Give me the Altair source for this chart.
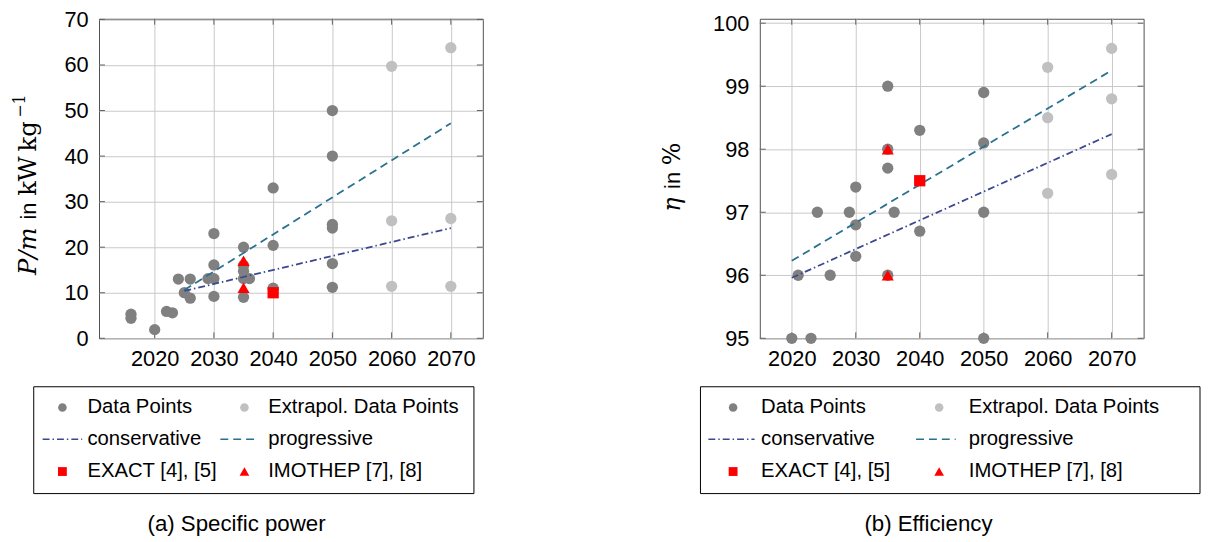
import altair as alt
import pandas as pd

SANS = "Liberation Sans"
SERIF = "DejaVu Serif"

# ---------------- (a) Specific power ----------------
sp_years = [2016, 2016, 2020, 2022, 2023, 2024, 2025, 2026, 2026, 2029,
            2030, 2030, 2030, 2030, 2035, 2035, 2035, 2035, 2035, 2036,
            2040, 2040, 2040, 2050, 2050, 2050, 2050, 2050, 2050]
sp_values = [5.3, 4.4, 1.9, 5.9, 5.6, 13.0, 10.0, 13.0, 8.8, 13.1,
             23.0, 16.1, 13.1, 9.2, 20.0, 16.0, 14.7, 13.1, 9.0, 13.1,
             33.0, 20.4, 11.0, 50.0, 40.0, 25.0, 24.2, 16.4, 11.2]
sp_ext_years = [2060, 2060, 2060, 2070, 2070, 2070]
sp_ext_values = [59.7, 25.8, 11.4, 63.8, 26.3, 11.4]
sp_exact_years = [2040]
sp_exact_values = [10.0]
sp_imothep_years = [2035, 2035]
sp_imothep_values = [17.0, 11.1]
sp_trend_years = [2025, 2070]
sp_conservative = [10.4, 24.2]
sp_progressive = [10.6, 47.2]

# ---------------- (b) Efficiency ----------------
ef_years = [2020, 2021, 2023, 2024, 2026, 2029, 2030, 2030, 2030, 2035,
            2035, 2035, 2035, 2036, 2040, 2040, 2050, 2050, 2050, 2050]
ef_values = [95.0, 96.0, 95.0, 97.0, 96.0, 97.0, 97.4, 96.8, 96.3, 99.0,
             98.0, 97.7, 96.0, 97.0, 98.3, 96.7, 98.9, 98.1, 97.0, 95.0]
ef_ext_years = [2060, 2060, 2060, 2070, 2070, 2070]
ef_ext_values = [99.3, 98.5, 97.3, 99.6, 98.8, 97.6]
ef_exact_years = [2040]
ef_exact_values = [97.5]
ef_imothep_years = [2035, 2035]
ef_imothep_values = [98.0, 96.0]
ef_trend_years = [2020, 2070]
ef_conservative = [95.96, 98.24]
ef_progressive = [96.23, 99.25]

x_ticks = [2020, 2030, 2040, 2050, 2060, 2070]
sp_y_ticks = [0, 10, 20, 30, 40, 50, 60, 70]
ef_y_ticks = [95, 96, 97, 98, 99, 100]

legend_labels = ["Data Points", "Extrapol. Data Points", "conservative",
                 "progressive", "EXACT [4], [5]", "IMOTHEP [7], [8]"]

C_DATA = "#808080"
C_EXT = "#c0c0c0"
C_CONS = "#3b4890"
C_PROG = "#2a7191"
C_RED = "#ff0000"
C_TICK = "#606060"
DASH_CONS = [7, 3, 1.5, 3]
DASH_PROG = [8, 5]

W, H = 388, 323
TL = 6  # inner tick length
one = pd.DataFrame({"k": [0]})


def df(xs, ys):
    return pd.DataFrame({"year": xs, "value": ys})


def px_text(txt, x, y, size, font=SANS, style="normal", angle=0,
            align="left", baseline="middle"):
    return alt.Chart(one).mark_text(
        text=txt, font=font, fontSize=size, fontStyle=style, angle=angle,
        align=align, baseline=baseline, color="black"
    ).encode(x=alt.value(x), y=alt.value(y))


def px_point(shape, color, size, x, y):
    return alt.Chart(one).mark_point(
        shape=shape, filled=True, color=color, size=size, opacity=1,
        strokeWidth=0
    ).encode(x=alt.value(x), y=alt.value(y))


def px_rule(color, dash, x1, x2, y):
    return alt.Chart(one).mark_rule(
        color=color, strokeDash=dash, strokeWidth=1.5
    ).encode(x=alt.value(x1), x2=alt.value(x2), y=alt.value(y))


def panel(pts, ext, exact, imothep, trend_x, cons, prog, xdom, ydom,
          yticks, leg, titles, caption, anchor_x):
    x = alt.X("year:Q",
              scale=alt.Scale(domain=xdom, nice=False, zero=False),
              axis=alt.Axis(values=x_ticks, format="d", title=None,
                            labelPadding=11))
    y = alt.Y("value:Q",
              scale=alt.Scale(domain=ydom, nice=False, zero=False),
              axis=alt.Axis(values=yticks, format="d", title=None,
                            labelPadding=11))

    layers = []
    # inward ticks on all four sides (pgfplots style)
    xt = pd.DataFrame({"year": x_ticks})
    yt = pd.DataFrame({"value": yticks})
    for (a, b) in [(H, H - TL), (0, TL)]:
        layers.append(alt.Chart(xt).mark_rule(color=C_TICK, strokeWidth=1)
                      .encode(x=x, y=alt.value(a), y2=alt.value(b)))
    for (a, b) in [(0, TL), (W, W - TL)]:
        layers.append(alt.Chart(yt).mark_rule(color=C_TICK, strokeWidth=1)
                      .encode(y=y, x=alt.value(a), x2=alt.value(b)))

    layers.append(alt.Chart(df(*pts)).mark_circle(
        size=130, color=C_DATA, opacity=1).encode(x=x, y=y))
    layers.append(alt.Chart(df(*ext)).mark_circle(
        size=130, color=C_EXT, opacity=1).encode(x=x, y=y))
    layers.append(alt.Chart(df(trend_x, cons)).mark_line(
        color=C_CONS, strokeDash=DASH_CONS, strokeWidth=1.8).encode(x=x, y=y))
    layers.append(alt.Chart(df(trend_x, prog)).mark_line(
        color=C_PROG, strokeDash=DASH_PROG, strokeWidth=1.8).encode(x=x, y=y))
    layers.append(alt.Chart(df(*exact)).mark_point(
        shape="square", filled=True, size=130, color=C_RED, opacity=1,
        strokeWidth=0).encode(x=x, y=y))
    layers.append(alt.Chart(df(*imothep)).mark_point(
        shape="triangle-up", filled=True, size=150, color=C_RED, opacity=1,
        strokeWidth=0).encode(x=x, y=y))

    # legend box
    bx0, bx1, by0, by1 = leg["box"]
    layers.append(alt.Chart(one).mark_rect(
        fill="white", stroke="black", strokeWidth=1
    ).encode(x=alt.value(bx0), x2=alt.value(bx1),
             y=alt.value(by0), y2=alt.value(by1)))
    r1, r2, r3 = leg["rows"]
    c1s, c1l0, c1l1, c1t = leg["col1"]
    c2s, c2l0, c2l1, c2t = leg["col2"]
    fs = 20.5
    layers += [
        px_point("circle", C_DATA, 75, c1s, r1),
        px_text(legend_labels[0], c1t, r1, fs),
        px_point("circle", C_EXT, 75, c2s, r1),
        px_text(legend_labels[1], c2t, r1, fs),
        px_rule(C_CONS, DASH_CONS, c1l0, c1l1, r2),
        px_text(legend_labels[2], c1t, r2, fs),
        px_rule(C_PROG, DASH_PROG, c2l0, c2l1, r2),
        px_text(legend_labels[3], c2t, r2, fs),
        px_point("square", C_RED, 80, c1s, r3),
        px_text(legend_labels[4], c1t, r3, fs),
        px_point("triangle-up", C_RED, 95, c2s, r3),
        px_text(legend_labels[5], c2t, r3, fs),
    ]
    # caption
    layers.append(px_text(caption[0], caption[1], caption[2], 22.5,
                          align="center", baseline="alphabetic"))
    # rotated y-axis title pieces
    for (txt, font, style, size, tx, ty) in titles:
        layers.append(px_text(txt, tx, ty, size, font=font, style=style,
                              angle=270, align="left",
                              baseline="alphabetic"))
    # invisible anchor fixing the left extent
    layers.append(alt.Chart(one).mark_rule(color="white", strokeWidth=1)
                  .encode(x=alt.value(anchor_x), y=alt.value(200),
                          y2=alt.value(201)))
    return alt.layer(*layers).properties(width=W, height=H)


left = panel(
    (sp_years, sp_values), (sp_ext_years, sp_ext_values),
    (sp_exact_years, sp_exact_values), (sp_imothep_years, sp_imothep_values),
    sp_trend_years, sp_conservative, sp_progressive,
    [2010.6, 2075.4], [0, 70.15], sp_y_ticks,
    {"box": (-66, 379, 372, 480), "rows": (393, 425, 457.7),
     "col1": (-37, -57, -17, -11.7), "col2": (147, 122.7, 161, 171)},
    [("P/m", SERIF, "italic", 24.5, -64, 259),
     ("in", SANS, "normal", 22, -64, 203),
     ("kW\u2009kg", SERIF, "normal", 24.5, -64, 179),
     ("\u22121", SERIF, "normal", 16, -75, 100)],
    ("(a) Specific power", 139, 518),
    -91,
)

right = panel(
    (ef_years, ef_values), (ef_ext_years, ef_ext_values),
    (ef_exact_years, ef_exact_values), (ef_imothep_years, ef_imothep_values),
    ef_trend_years, ef_conservative, ef_progressive,
    [2015, 2075], [95, 100.07], ef_y_ticks,
    {"box": (-60, 445, 372, 480), "rows": (393, 425, 457.7),
     "col1": (-27, -52, -5.3, 1.3), "col2": (181.3, 158, 198, 211.3)},
    [("\u03b7", SERIF, "italic", 24, -81, 195),
     ("in", SANS, "normal", 22, -81, 172),
     ("%", SERIF, "normal", 24, -81, 148)],
    ("(b) Efficiency", 170.5, 518),
    -100,
)

chart = alt.hconcat(left, right, spacing=178).properties(
    padding={"left": 0, "top": -3, "right": 0, "bottom": -2},
    background="white",
).configure_view(
    stroke="#505050", strokeWidth=1
).configure_axis(
    grid=True, gridColor="#c8c8c8", gridWidth=1, domain=False, ticks=False,
    labelFont=SANS, labelFontSize=22, labelColor="black"
)

chart.save("out.html", embed_options={"renderer": "svg", "actions": False})
